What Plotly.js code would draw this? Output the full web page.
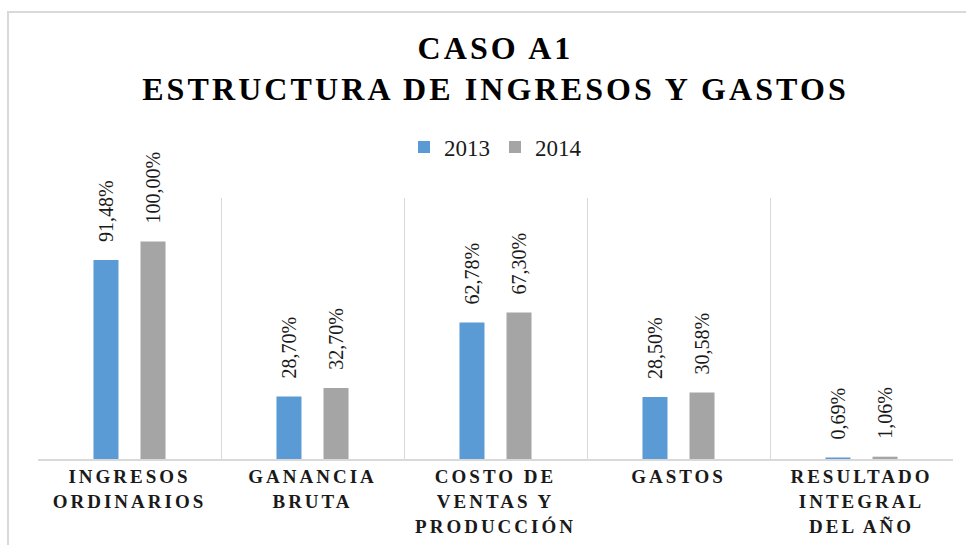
<!DOCTYPE html>
<html>
<head>
<meta charset="utf-8">
<script src="https://cdn.plot.ly/plotly-3.0.1.min.js"></script>
<style>
  html, body { margin: 0; padding: 0; background: #fff; }
  #chart { width: 966px; height: 545px; }
  .xtick text { letter-spacing: 3px; }
  .gtitle { letter-spacing: 3.1px; }
</style>
</head>
<body>
<div id="chart"></div>
<script>
const categories = [
  "INGRESOS<br>ORDINARIOS",
  "GANANCIA<br>BRUTA",
  "COSTO DE<br>VENTAS Y<br>PRODUCCIÓN",
  "GASTOS",
  "RESULTADO<br>INTEGRAL<br>DEL AÑO"
];
const values2013 = [91.48, 28.70, 62.78, 28.50, 0.69];
const values2014 = [100.00, 32.70, 67.30, 30.58, 1.06];
const seriesNames = ["2013", "2014"];
const seriesColors = ["#5b9bd5", "#a5a5a5"];

function fmt(v) {
  return v.toFixed(2).replace(".", ",") + "%";
}

const serif = "Times New Roman, Liberation Serif, Tinos, DejaVu Serif, serif";

function makeTrace(name, vals, color) {
  return {
    type: "bar",
    name: name,
    x: categories,
    y: vals,
    marker: { color: color },
    text: vals.map(fmt),
    texttemplate: "\u00a0\u00a0\u00a0%{text}",
    textposition: "outside",
    textangle: -90,
    constraintext: "none",
    cliponaxis: false,
    textfont: { family: serif, size: 20, color: "#1a1a1a" },
    hoverinfo: "skip"
  };
}

const data = [
  makeTrace(seriesNames[0], values2013, seriesColors[0]),
  makeTrace(seriesNames[1], values2014, seriesColors[1])
];

const layout = {
  width: 966,
  height: 545,
  margin: { l: 38, r: 13, t: 198, b: 86, pad: 0 },
  paper_bgcolor: "#ffffff",
  plot_bgcolor: "#ffffff",
  font: { family: serif },
  barmode: "group",
  bargap: 0.486,
  bargroupgap: 0.468,
  showlegend: true,
  title: {
    text: "<b>CASO A1<br>ESTRUCTURA DE INGRESOS Y GASTOS</b>",
    font: { family: serif, size: 32, color: "#000000" },
    x: 0.5,
    xref: "paper",
    xanchor: "center",
    y: 0.892,
    yref: "container",
    yanchor: "top"
  },
  legend: {
    orientation: "h",
    x: 0.5,
    xanchor: "center",
    y: 1.195,
    yanchor: "middle",
    font: { family: serif, size: 23, color: "#1a1a1a" },
    bgcolor: "rgba(0,0,0,0)",
    itemclick: false
  },
  xaxis: {
    type: "category",
    tickson: "boundaries",
    showgrid: true,
    gridcolor: "#d9d9d9",
    gridwidth: 1,
    showline: true,
    linecolor: "#d9d9d9",
    linewidth: 1.5,
    ticks: "",
    tickangle: 0,
    tickfont: { family: serif, size: 19, color: "#1a1a1a", weight: "bold" },
    fixedrange: true
  },
  yaxis: {
    range: [0, 120],
    visible: true,
    showgrid: false,
    zeroline: false,
    showline: false,
    showticklabels: false,
    ticks: "",
    fixedrange: true
  },
  shapes: [
    {
      type: "rect",
      xref: "paper",
      yref: "paper",
      x0: -0.0328,
      x1: 1.1,
      y0: -0.5,
      y1: 1.7126,
      line: { color: "#d9d9d9", width: 2 },
      fillcolor: "rgba(0,0,0,0)",
      layer: "above"
    }
  ]
};

Plotly.newPlot("chart", data, layout, { displayModeBar: false, staticPlot: true });
</script>
</body>
</html>
